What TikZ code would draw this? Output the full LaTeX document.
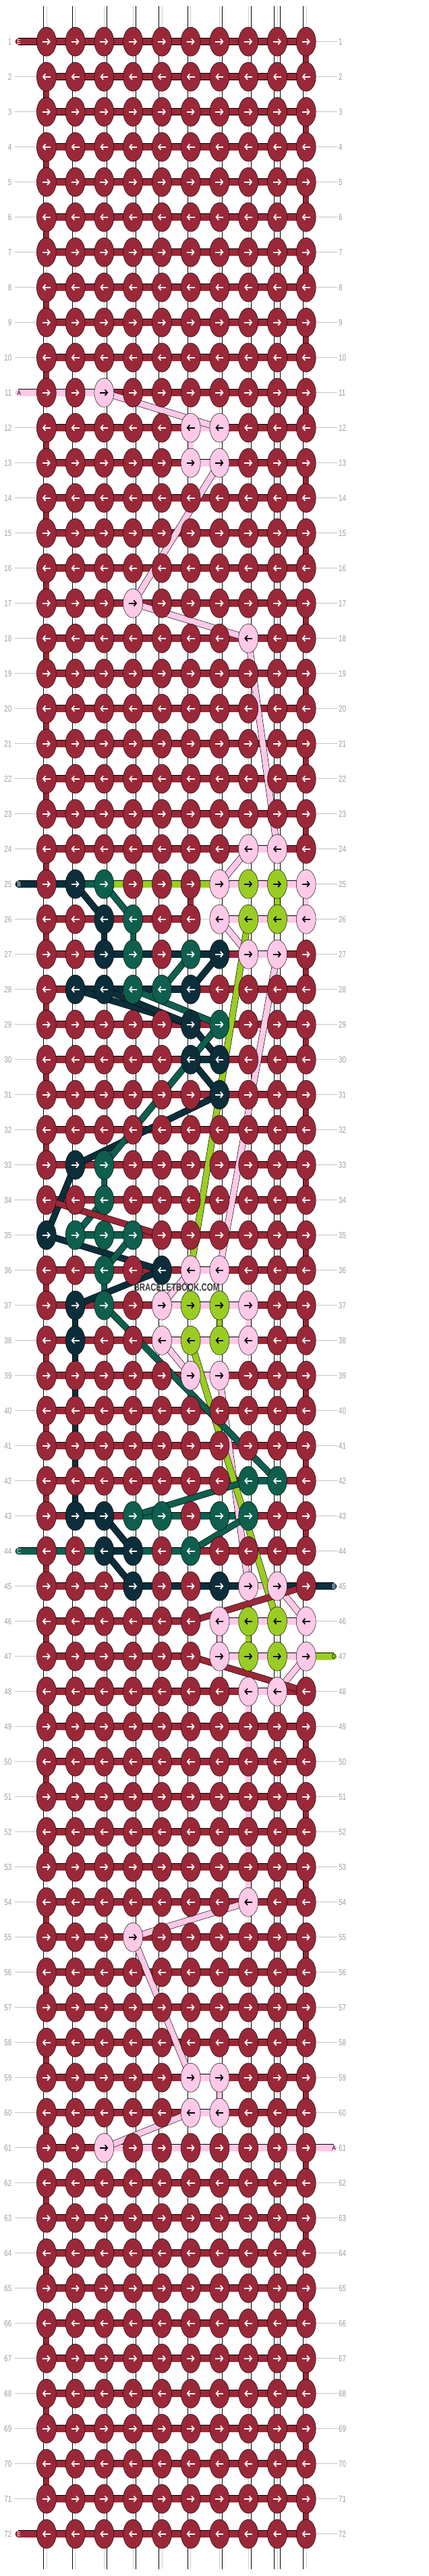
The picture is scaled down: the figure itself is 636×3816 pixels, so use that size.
\documentclass[tikz,border=0pt]{standalone}
\usepackage{fontspec}
\setmainfont{Liberation Sans}
\usetikzlibrary{arrows.meta,shapes.geometric}
\definecolor{mar}{HTML}{9A2838}
\definecolor{pnk}{HTML}{FFC9E7}
\definecolor{drk}{HTML}{0B2E3A}
\definecolor{grn}{HTML}{0E5F4E}
\definecolor{lim}{HTML}{9ACD23}
\definecolor{numgray}{HTML}{9E9E9E}
\definecolor{rulegray}{HTML}{C4C4C4}
\tikzset{
  knot/.style={ellipse, draw=black, line width=0.45pt, minimum width=29pt, minimum height=43pt, inner sep=0pt},
  band/.style={draw=#1, line width=9.6pt, preaction={draw=black, line width=11pt}},
  strut/.style={draw=#1, line width=7.8pt, preaction={draw=black, line width=9.2pt}},
  strand/.style={draw=white, line width=8pt, preaction={draw=black, line width=9.2pt}, postaction={draw=black!18, line width=0.4pt}},
  floatline/.style={draw=#1, line width=8.6pt, preaction={draw=black, line width=9.8pt}},
  rowrule/.style={draw=rulegray, line width=0.7pt},
  rownum/.style={text=numgray, font=\fontsize{13}{13}\selectfont, inner sep=0pt},
  endlab/.style={font=\fontsize{10}{10}\selectfont, inner sep=0pt},
  arr/.style={line width=1.7pt, -{Straight Barb[length=3.6pt, width=8.5pt]}}
}
% arrow colour on each knot colour
\expandafter\def\csname ac-mar\endcsname{white}
\expandafter\def\csname ac-drk\endcsname{white}
\expandafter\def\csname ac-grn\endcsname{white}
\expandafter\def\csname ac-pnk\endcsname{black}
\expandafter\def\csname ac-lim\endcsname{black}
\def\WHT{wht}
\def\NON{non}
\def\GRY{gry}
% lookups: knot colour, row segment c->c+1, column segment r->r+1
\newcommand\setknots[2]{\foreach \cc/\kk in {#2}{\expandafter\xdef\csname kn-#1-\cc\endcsname{\kk}}}
\newcommand\sethsegs[2]{\foreach \cc/\kk in {#2}{\expandafter\xdef\csname hs-#1-\cc\endcsname{\kk}}}
\newcommand\setvsegs[2]{\foreach \cc/\kk in {#2}{\expandafter\xdef\csname vs-#1-\cc\endcsname{\kk}}}

\setknots{11}{3/pnk}
\setknots{12}{6/pnk,7/pnk}
\setknots{13}{6/pnk,7/pnk}
\setknots{17}{4/pnk}
\setknots{18}{8/pnk}
\setknots{24}{8/pnk,9/pnk}
\setknots{25}{2/drk,3/grn,7/pnk,8/lim,9/lim,10/pnk}
\setknots{26}{3/drk,4/grn,7/pnk,8/lim,9/lim,10/pnk}
\setknots{27}{3/drk,4/grn,6/grn,7/drk,8/pnk,9/pnk}
\setknots{28}{2/drk,3/drk,4/grn,5/grn,6/drk}
\setknots{29}{6/drk,7/grn}
\setknots{30}{6/drk,7/drk}
\setknots{31}{7/drk}
\setknots{33}{2/drk,3/grn}
\setknots{34}{3/grn}
\setknots{35}{1/drk,2/grn,3/grn,4/grn}
\setknots{36}{3/grn,5/drk,6/pnk,7/pnk}
\setknots{37}{2/drk,3/grn,5/pnk,6/lim,7/lim,8/pnk}
\setknots{38}{2/drk,5/pnk,6/lim,7/lim,8/pnk}
\setknots{39}{6/pnk,7/pnk}
\setknots{42}{8/grn,9/grn}
\setknots{43}{2/drk,3/drk,4/grn,5/grn,7/grn,8/grn}
\setknots{44}{3/drk,4/drk,6/grn}
\setknots{45}{4/drk,7/drk,8/pnk,9/pnk}
\setknots{46}{7/pnk,8/lim,9/lim,10/pnk}
\setknots{47}{7/pnk,8/lim,9/lim,10/pnk}
\setknots{48}{8/pnk,9/pnk}
\setknots{54}{8/pnk}
\setknots{55}{4/pnk}
\setknots{59}{6/pnk,7/pnk}
\setknots{60}{6/pnk,7/pnk}
\setknots{61}{3/pnk}

\sethsegs{11}{1/pnk,2/pnk}
\sethsegs{12}{6/pnk}
\sethsegs{13}{6/pnk}
\sethsegs{24}{8/pnk}
\sethsegs{25}{1/drk,2/grn,3/lim,4/lim,5/lim,6/lim,7/pnk,8/pnk,9/pnk}
\sethsegs{26}{6/gry,7/pnk,8/pnk,9/pnk}
\sethsegs{27}{3/drk,4/drk,5/drk,6/drk,8/pnk}
\sethsegs{28}{2/drk,3/drk,4/drk,5/drk}
\sethsegs{30}{6/drk}
\sethsegs{35}{1/non,2/grn,3/grn}
\sethsegs{36}{6/pnk}
\sethsegs{37}{5/pnk,6/pnk,7/pnk}
\sethsegs{38}{5/pnk,6/pnk,7/pnk}
\sethsegs{39}{6/pnk}
\sethsegs{42}{8/grn}
\sethsegs{43}{2/drk,4/grn,5/grn,6/grn,7/grn}
\sethsegs{44}{1/grn,2/grn,3/drk,4/grn,5/grn}
\sethsegs{45}{4/drk,5/drk,6/drk,7/drk,8/pnk,9/drk}
\sethsegs{46}{6/non,7/pnk,8/pnk,9/pnk}
\sethsegs{47}{6/non,7/pnk,8/pnk,9/pnk}
\sethsegs{48}{8/pnk}
\sethsegs{59}{6/pnk}
\sethsegs{60}{6/pnk}
\sethsegs{61}{3/pnk,4/pnk,5/pnk,6/pnk,7/pnk,8/pnk,9/pnk}

\setvsegs{12}{6/pnk}
\setvsegs{25}{6/mar,9/lim,10/pnk}
\setvsegs{26}{3/drk,4/grn}
\setvsegs{33}{3/grn}
\setvsegs{34}{1/wht}
\setvsegs{36}{3/grn}
\setvsegs{37}{2/drk,7/lim,8/pnk}
\foreach \rr in {38,...,42}{\setvsegs{\rr}{2/drk}}
\setvsegs{45}{10/wht}
\setvsegs{46}{7/pnk,8/lim}
\setvsegs{47}{10/wht}
\foreach \rr in {48,...,53}{\setvsegs{\rr}{8/pnk}}
\setvsegs{59}{7/pnk}

\begin{document}
\begin{tikzpicture}[x=1pt,y=-1pt]
  \useasboundingbox[fill=white] (0,0) rectangle (636,3816);
  % grid of knot places
  \foreach \rr in {1,...,72}{
    \foreach \cc in {1,...,10}{
      \coordinate (p-\rr-\cc) at ({68.8+(\cc-1)*42.77},{61.7+(\rr-1)*52});
    }
    \coordinate (lft-\rr) at (21.7,{61.7+(\rr-1)*52});
    \coordinate (rgt-\rr) at (500,{61.7+(\rr-1)*52});
    \draw[rowrule] (lft-\rr) -- (p-\rr-1);
    \draw[rowrule] (p-\rr-10) -- (rgt-\rr);
    \node[rownum, anchor=east] (nl-\rr) at (17.5,{61.7+(\rr-1)*52}) {\scalebox{0.75}[1]{\rr}};
    \node[rownum, anchor=west] (nr-\rr) at (502,{61.7+(\rr-1)*52}) {\scalebox{0.75}[1]{\rr}};
  }

  % loose ends top and bottom
  \foreach \cc in {1,...,10}{
    \coordinate (top-\cc) at ({68.8+(\cc-1)*42.77},9.5);
    \coordinate (bot-\cc) at ({68.8+(\cc-1)*42.77},3805.5);
    \draw[strand, line cap=round] (top-\cc) -- (p-1-\cc);
    \draw[strand, line cap=round] (p-72-\cc) -- (bot-\cc);
  }

  % strands between rows
  \foreach \rr in {1,...,71}{
    \pgfmathtruncatemacro\nr{\rr+1}
    \foreach \cc in {1,...,10}{
      \def\vc{wht}
      \ifnum\cc=1\relax \ifodd\rr\relax\else\def\vc{mar}\fi\fi
      \ifnum\cc=10\relax \ifodd\rr\relax\def\vc{mar}\fi\fi
      \ifcsname vs-\rr-\cc\endcsname\edef\vc{\csname vs-\rr-\cc\endcsname}\fi
      \ifx\vc\WHT
        \draw[strand] (p-\rr-\cc) -- (p-\nr-\cc);
      \else
        \draw[strut=\vc] (p-\rr-\cc) -- (p-\nr-\cc);
      \fi
    }
  }

  % row threads
  \foreach \rr in {1,...,72}{
    \foreach \cc in {1,...,9}{
      \pgfmathtruncatemacro\nc{\cc+1}
      \def\hc{mar}
      \ifcsname hs-\rr-\cc\endcsname\edef\hc{\csname hs-\rr-\cc\endcsname}\fi
      \ifx\hc\NON\else
        \ifx\hc\GRY
          \draw[rowrule] (p-\rr-\cc) -- (p-\rr-\nc);
        \else
          \draw[band=\hc] (p-\rr-\cc) -- (p-\rr-\nc);
        \fi
      \fi
    }
  }

  % thread ends
  \foreach \rr/\col/\lab/\tc in {1/mar/E/white, 11/pnk/A/black, 25/drk/B/white, 44/grn/C/white, 72/mar/E/white}{
    \coordinate (le-\rr) at (27.2,{61.7+(\rr-1)*52});
    \draw[band=\col, line cap=round] (le-\rr) -- (p-\rr-1);
    \node[endlab, text=\tc] (ll-\rr) at ([xshift=1.1pt]le-\rr) {\scalebox{0.8}[1]{\lab}};
  }
  \foreach \rr/\col/\lab/\tc in {45/drk/B/white, 47/lim/D/black, 61/pnk/A/black}{
    \coordinate (re-\rr) at (494.5,{61.7+(\rr-1)*52});
    \draw[band=\col, line cap=round] (p-\rr-10) -- (re-\rr);
    \node[endlab, text=\tc] (rl-\rr) at ([xshift=0.5pt]re-\rr) {\scalebox{0.8}[1]{\lab}};
  }

  % floating threads
  \foreach \a/\b/\col in {11-3/12-7/pnk, 13-7/17-4/pnk, 17-4/18-8/pnk, 18-8/24-9/pnk,
      24-8/25-7/pnk, 26-7/27-8/pnk, 27-9/36-7/pnk, 36-6/37-5/pnk, 38-5/39-6/pnk,
      39-7/45-8/pnk, 45-9/46-10/pnk, 47-10/48-9/pnk, 54-8/55-4/pnk, 55-4/59-6/pnk,
      60-6/61-3/pnk,
      26-8/36-6/lim, 38-6/46-9/lim,
      25-2/26-3/drk, 27-7/28-6/drk, 28-2/29-6/drk, 28-3/29-6/drk, 29-6/30-7/drk,
      30-6/31-7/drk, 31-7/33-2/drk, 33-2/35-1/drk, 35-1/36-5/drk, 36-5/37-2/drk,
      43-3/44-4/drk, 44-3/45-4/drk,
      25-3/26-4/grn, 28-5/27-6/grn, 28-4/29-7/grn, 29-7/33-3/grn, 34-3/35-2/grn,
      35-4/36-3/grn, 37-3/42-9/grn, 42-8/43-4/grn, 43-8/44-6/grn,
      34-1/35-5/mar, 46-6/45-10/mar, 47-6/48-10/mar}
    \draw[floatline=\col] (p-\a) -- (p-\b);

  % knots
  \foreach \rr in {1,...,72}{
    \foreach \cc in {1,...,10}{
      \def\kc{mar}
      \ifcsname kn-\rr-\cc\endcsname\edef\kc{\csname kn-\rr-\cc\endcsname}\fi
      \edef\ac{\csname ac-\kc\endcsname}
      \node[knot, fill=\kc] (k-\rr-\cc) at (p-\rr-\cc) {};
      \ifodd\rr\relax
        \draw[arr, draw=\ac] ([xshift=-6pt]k-\rr-\cc.center) -- ([xshift=6pt]k-\rr-\cc.center);
      \else
        \draw[arr, draw=\ac] ([xshift=6pt]k-\rr-\cc.center) -- ([xshift=-6pt]k-\rr-\cc.center);
      \fi
    }
  }

  \node[font=\fontsize{15.5}{15.5}\selectfont\bfseries, text=black!78, inner sep=0pt] (mark) at (262,1907) {\scalebox{0.74}[1]{BRACELETBOOK.COM}};
\end{tikzpicture}
\end{document}
